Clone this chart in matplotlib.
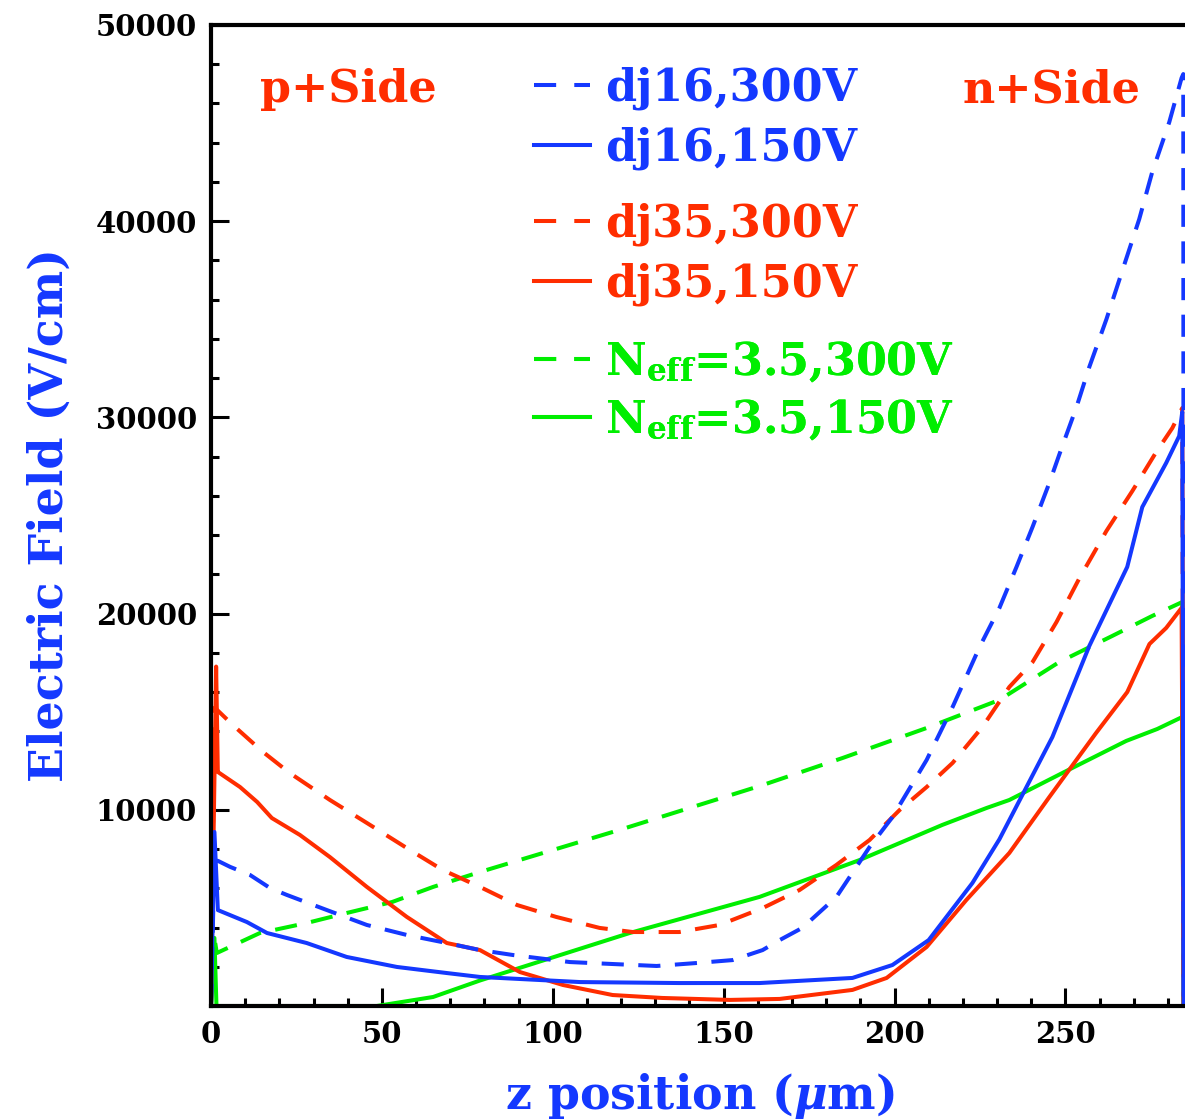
import numpy as np
import matplotlib
matplotlib.use("Agg")
import matplotlib.pyplot as plt
from matplotlib.lines import Line2D
from matplotlib.ticker import MultipleLocator, FixedLocator, FixedFormatter

plt.rcParams['font.family'] = ['DejaVu Serif']
plt.rcParams['font.weight'] = 'bold'
plt.rcParams['mathtext.fontset'] = 'custom'
plt.rcParams['mathtext.rm'] = 'DejaVu Serif:bold'
plt.rcParams['mathtext.bf'] = 'DejaVu Serif:bold'
plt.rcParams['mathtext.it'] = 'DejaVu Serif:italic:bold'

BLUE = '#1438ff'
RED = '#ff2d00'
GREEN = '#00ee00'

# dj16, 300V
z_dj16_300 = [0, 1, 2, 5.6, 11.4, 17.3, 22.2, 33.9, 45.6, 57.3, 69, 78.7, 88.3, 105, 117.5,
              130.4, 142, 152.6, 161.4, 166.4, 173, 183, 192.7, 199.4, 209.4, 217, 224.9,
              230.7, 235.7, 240.4, 245.3, 249.1, 253.2, 257, 262, 266.7, 271.6, 275.4,
              280.4, 284, 284.5, 284.6]
e_dj16_300 = [0, 7400, 7400, 7090, 6680, 6010, 5660, 4890, 4130, 3620, 3210, 2850, 2600, 2240, 2140,
              2040, 2190, 2340, 2850, 3360, 3980, 5560, 8100, 9630, 12540, 15240, 18300,
              20290, 22380, 24420, 26660, 28540, 30500, 32570, 35000, 37500, 40100, 42500,
              45050, 47300, 47500, 0]

# dj16, 150V
z_dj16_150 = [0, 1, 2, 10.5, 16.4, 28, 39.7, 54.4, 69, 78.7, 108, 137, 160.5, 187.7, 199.4,
              210, 222.8, 230.7, 246.2, 257, 268.1, 272.5, 279.5, 283.3, 284.2, 284.6]
e_dj16_150 = [0, 8870, 4890, 4280, 3720, 3210, 2500, 1990, 1680, 1480, 1220, 1170, 1170, 1430, 2090,
              3360, 6270, 8500, 13710, 18350, 22380, 25430, 27680, 29050, 30280, 0]

# dj35, 300V
z_dj35_300 = [0, 1, 1.2, 6.4, 15.2, 23, 34.8, 45.6, 57.3, 67.8, 78.7, 89.5, 101, 113.7, 123.4,
              137, 148.8, 161.4, 172.2, 183, 192.7, 201.5, 209.4, 217, 225.7, 233.6, 240.4,
              247.4, 254, 262, 269.6, 276.6, 281.3, 284.2, 284.6]
e_dj35_300 = [0, 15200, 15190, 14320, 12950, 11880, 10500, 9330, 8050, 6930, 6070, 5150, 4540, 3980, 3770,
              3770, 4130, 4990, 5910, 7190, 8460, 9990, 11160, 12390, 14220, 16260, 17530,
              19570, 21770, 24210, 26250, 28240, 29460, 30480, 0]

# dj35, 150V
z_dj35_150 = [0, 1.5, 2, 8.5, 13.5, 17.8, 26, 34.8, 45.6, 57.3, 69, 78.7, 90.4, 103, 117.5,
              132, 151.8, 166.4, 187.7, 197.7, 209.4, 221, 233.6, 245.3, 259, 268.1, 274.6,
              279.5, 284, 284.6]
e_dj35_150 = [0, 17300, 11930, 11160, 10400, 9580, 8720, 7590, 6070, 4540, 3210, 2850, 1730, 1070, 560,
              410, 310, 360, 820, 1430, 3010, 5400, 7800, 10650, 13920, 16000, 18450,
              19270, 20290, 0]

# Neff=3.5, 300V
z_neff_300 = [0, 1, 1.7, 14.3, 28, 39.7, 53, 65, 78.7, 120, 161.4, 184.8, 209.4, 230.7,
              248.2, 263.7, 275.4, 284.2, 284.6]
e_neff_300 = [0, 3470, 2700, 3720, 4230, 4740, 5300, 6070, 6830, 9000, 11260, 12640, 14170, 15600,
              17530, 18860, 19880, 20590, 0]

# Neff=3.5, 150V
z_neff_150 = [0, 1, 1.6, 48.5, 65, 78.7, 122.5, 160.5, 189.8, 214, 226.9, 233.6, 250.3,
              267.8, 276.9, 284.2, 284.6]
e_neff_150 = [0, 3470, 0, 0, 460, 1300, 3720, 5560, 7440, 9230, 10090, 10500, 11980,
              13510, 14120, 14730, 0]

x_ticks = [0, 50, 100, 150, 200, 250]
y_ticks = [10000, 20000, 30000, 40000, 50000]

fig = plt.figure(figsize=(11.85, 11.2), dpi=100)
ax = fig.add_axes([211 / 1185, 1 - 1006 / 1120, 974 / 1185, 981 / 1120])

lw = 2.9
dash = (0, (5.5, 3.6))
ax.plot(z_neff_300, e_neff_300, color=GREEN, lw=lw, ls=dash)
ax.plot(z_neff_150, e_neff_150, color=GREEN, lw=lw)
ax.plot(z_dj35_300, e_dj35_300, color=RED, lw=lw, ls=dash)
ax.plot(z_dj35_150, e_dj35_150, color=RED, lw=lw)
ax.plot(z_dj16_300, e_dj16_300, color=BLUE, lw=lw, ls=dash)
ax.plot(z_dj16_150, e_dj16_150, color=BLUE, lw=lw)

ax.set_xlim(0, 285)
ax.set_ylim(0, 50000)
ax.xaxis.set_major_locator(FixedLocator(x_ticks))
ax.xaxis.set_major_formatter(FixedFormatter([str(v) for v in x_ticks]))
ax.xaxis.set_minor_locator(MultipleLocator(10))
ax.yaxis.set_major_locator(FixedLocator(y_ticks))
ax.yaxis.set_major_formatter(FixedFormatter([str(v) for v in y_ticks]))
ax.yaxis.set_minor_locator(MultipleLocator(2000))
ax.tick_params(which='major', direction='in', length=13, width=2.2, labelsize=21, pad=10,
               top=False, right=False)
ax.tick_params(which='minor', direction='in', length=6, width=2.2, top=False, right=False)
for lab in ax.get_xticklabels() + ax.get_yticklabels():
    lab.set_fontweight('bold')
for s in ['left', 'bottom', 'top']:
    ax.spines[s].set_linewidth(3)
ax.spines['right'].set_visible(False)

ax.set_xlabel(r'z position ($\mu$m)', fontsize=33, color=BLUE, fontweight='bold')
ax.set_ylabel('Electric Field (V/cm)', fontsize=33, color=BLUE, fontweight='bold')
ax.xaxis.set_label_coords(0.502, -0.066)
ax.yaxis.set_label_coords(-0.142, 0.5)

ax.text(0.141, 0.934, 'p+Side', transform=ax.transAxes, fontsize=32, color=RED,
        ha='center', va='center', fontweight='bold')
ax.text(0.863, 0.934, 'n+Side', transform=ax.transAxes, fontsize=32, color=RED,
        ha='center', va='center', fontweight='bold')

groups = [
    ([BLUE, BLUE], ['dj16,300V', 'dj16,150V'], 0.958, 0.37),
    ([RED, RED], ['dj35,300V', 'dj35,150V'], 0.819, 0.37),
    ([GREEN, GREEN], [r'N$_{\mathbf{eff}}$=3.5,300V', r'N$_{\mathbf{eff}}$=3.5,150V'], 0.680, 0.3),
]
for cols, labels, fy, sp in groups:
    handles = [Line2D([], [], color=cols[0], lw=lw, ls=(0, (5.5, 4.5))),
               Line2D([], [], color=cols[1], lw=lw)]
    leg = ax.legend(handles, labels, loc='upper left', bbox_to_anchor=(0.332, fy),
                    frameon=False, fontsize=32, handlelength=1.25, handletextpad=0.35,
                    labelspacing=sp, borderpad=0, borderaxespad=0, labelcolor='linecolor',
                    prop={'weight': 'bold', 'size': 32})
    ax.add_artist(leg)

fig.savefig('out.png', dpi=100)
